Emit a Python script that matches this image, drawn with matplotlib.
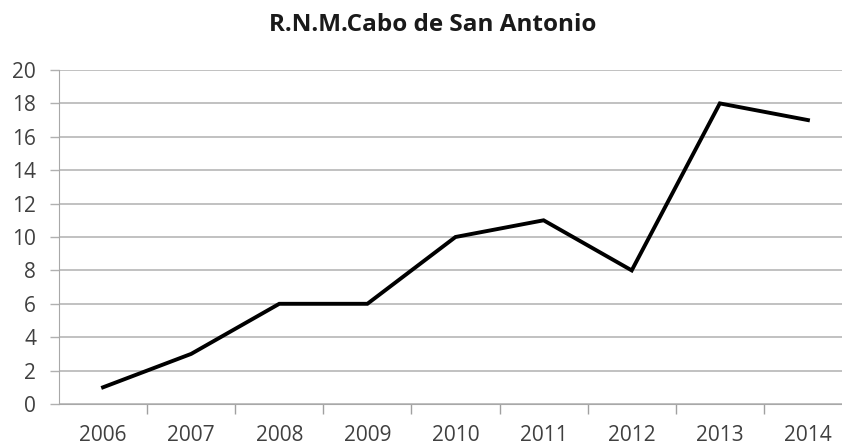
import matplotlib.pyplot as plt

years = ['2006', '2007', '2008', '2009', '2010', '2011', '2012', '2013', '2014']
values = [1, 3, 6, 6, 10, 11, 8, 18, 17]
y_ticks = [0, 2, 4, 6, 8, 10, 12, 14, 16, 18, 20]

plt.rcParams['font.family'] = ['Open Sans', 'DejaVu Sans']

fig = plt.figure(figsize=(8.42, 4.45), dpi=100)
# plot area runs off the right edge, like the cropped original
ax = fig.add_axes([59 / 842, 41 / 445, 793 / 842, 334 / 445])

x = list(range(len(years)))
ax.plot(x, values, color='black', lw=2.8, solid_joinstyle='miter', zorder=3)

ax.set_xlim(-0.5, len(years) - 0.5)
ax.set_ylim(0, 20)
ax.set_yticks(y_ticks)
ax.yaxis.grid(True, color='#b0b0b0', lw=1.1)
ax.set_axisbelow(True)

# category labels centred, tick marks between categories
ax.set_xticks(x)
ax.set_xticklabels(years)
ax.set_xticks([i + 0.5 for i in range(len(years) - 1)], minor=True)
ax.tick_params(axis='x', which='major', length=0, pad=15, labelsize=15, colors='#404040')
ax.tick_params(axis='x', which='minor', length=7, color='#a0a0a0', width=1)
ax.tick_params(axis='y', length=6.5, color='#b0b0b0', width=1, pad=10, labelsize=15, labelcolor='#404040')

for side in ['top', 'right']:
    ax.spines[side].set_visible(False)
ax.spines['left'].set_color('#a8a8a8')
ax.spines['bottom'].set_color('#a8a8a8')

fig.text(433 / 842, 1 - 25 / 445, 'R.N.M.Cabo de San Antonio', ha='center', va='center',
         fontsize=17.5, fontweight='bold', color='#1a1a1a')

fig.savefig('out.png', dpi=100)
